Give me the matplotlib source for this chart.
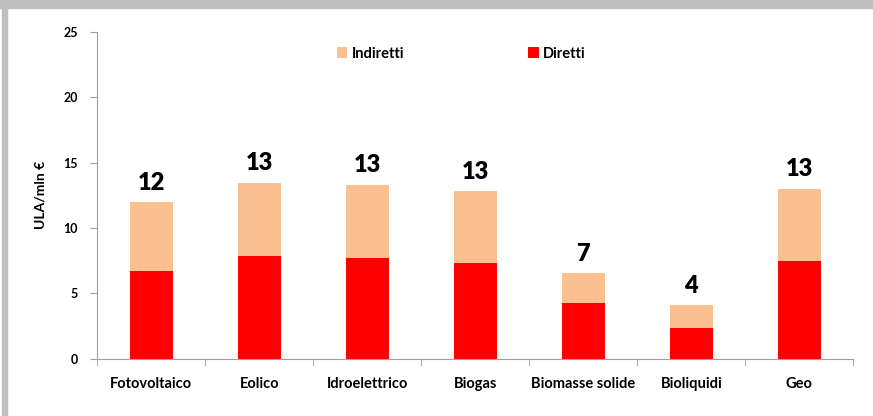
import matplotlib
matplotlib.use('Agg')
import matplotlib.pyplot as plt
from matplotlib.patches import Rectangle
import numpy as np

categories = ['Fotovoltaico', 'Eolico', 'Idroelettrico', 'Biogas',
              'Biomasse solide', 'Bioliquidi', 'Geo']
diretti = [6.7, 7.85, 7.7, 7.3, 4.25, 2.35, 7.5]
indiretti = [5.25, 5.6, 5.6, 5.5, 2.3, 1.75, 5.5]
totali = ['12', '13', '13', '13', '7', '4', '13']

plt.rcParams['font.family'] = ['Lato', 'DejaVu Sans']
plt.rcParams['font.weight'] = 'bold'

fig = plt.figure(figsize=(8.73, 4.16), dpi=100)
ax = fig.add_axes([0.1115, 0.1377, 0.866, 0.786])

# cornice grigia (sopra e a sinistra)
fig.patches.append(Rectangle((0, 1 - 8 / 416), 1, 8 / 416, transform=fig.transFigure,
                             color='#BFBFBF', zorder=0))
fig.patches.append(Rectangle((2 / 873, 0), 5 / 873, 1, transform=fig.transFigure,
                             color='#BFBFBF', zorder=0))

x = np.arange(len(categories))
b1 = ax.bar(x, diretti, width=0.4, color='#FF0000', label='Diretti')
b2 = ax.bar(x, indiretti, width=0.4, bottom=diretti, color='#FAC090', label='Indiretti')

tops = np.array(diretti) + np.array(indiretti)
for xi, top, lab in zip(x, tops, totali):
    ax.annotate(lab, (xi, top), xytext=(0, 6), textcoords='offset points',
                ha='center', va='bottom', fontsize=17, fontweight='heavy')

ax.set_xlim(-0.5, len(categories) - 0.5)
ax.set_ylim(0, 25)
ax.set_yticks(range(0, 26, 5))
ax.set_xticks(x)
ax.set_xticklabels(categories, fontsize=10.5, fontweight='bold')
ax.set_xticks(np.arange(-0.5, len(categories), 1), minor=True)
ax.tick_params(axis='x', which='major', length=0, pad=13)
ax.tick_params(axis='x', which='minor', length=5, color='#A0A0A0', direction='out')
ax.tick_params(axis='y', length=5, color='#A0A0A0', labelsize=9, pad=9)
for t in ax.get_yticklabels():
    t.set_fontweight('bold')
ax.set_ylabel('ULA/mln €', fontsize=10, fontweight='bold', labelpad=12)

for s in ['top', 'right']:
    ax.spines[s].set_visible(False)
for s in ['left', 'bottom']:
    ax.spines[s].set_color('#A0A0A0')

ax.legend([b2, b1], ['Indiretti', 'Diretti'], ncol=2, loc='upper left',
          bbox_to_anchor=(0.30, 0.995), frameon=False, fontsize=10.5,
          handlelength=0.7, handleheight=0.7, handletextpad=0.3,
          columnspacing=8.5)

plt.savefig('out.png', dpi=100)
